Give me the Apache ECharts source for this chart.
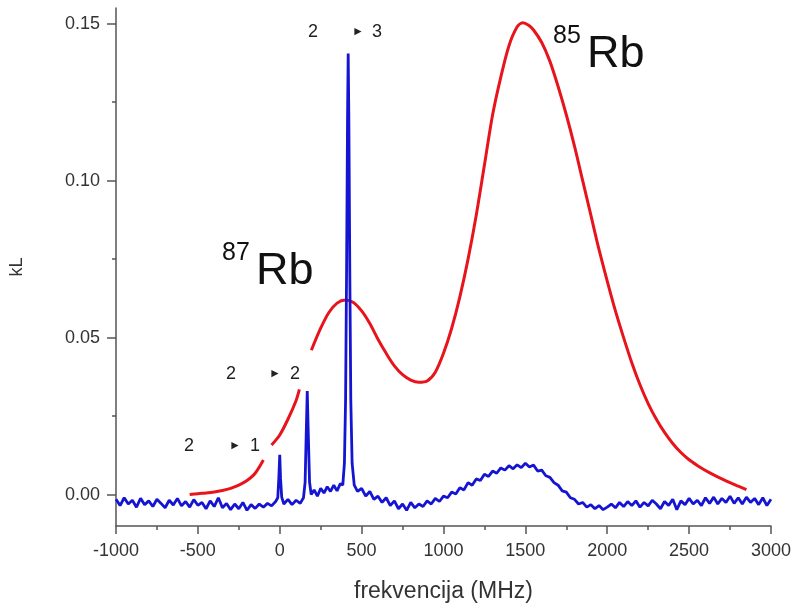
<!DOCTYPE html>
<html>
<head>
<meta charset="utf-8">
<script src="https://cdn.jsdelivr.net/npm/echarts@6/dist/echarts.min.js"></script>
<style>
  html, body { margin: 0; padding: 0; background: #fff; }
  #chart { width: 794px; height: 608px; }
</style>
</head>
<body>
<div id="chart"></div>
<script>
// x ticks (MHz) and y tick labels (kL)
var xTicks = [-1000, -500, 0, 500, 1000, 1500, 2000, 2500, 3000];
var yTicks = [0, 0.05, 0.10, 0.15];
var yMinorTicks = [0.025, 0.075, 0.125];

// absorption of the cell (red), null = gap in the trace
var redSpectrum = [
  [-550, 0.0000], [-500, 0.0003], [-450, 0.0005], [-400, 0.0008], [-350, 0.0013],
  [-300, 0.0020], [-250, 0.0030], [-200, 0.0045], [-150, 0.0068], [-100, 0.0110],
  [-75, null],
  [-50, 0.0158], [0, 0.0190], [50, 0.0240], [100, 0.0300], [120, 0.0335],
  [150, null],
  [193, 0.0460], [250, 0.0530], [300, 0.0580], [350, 0.0610], [400, 0.0620],
  [450, 0.0612], [500, 0.0585], [550, 0.0545], [600, 0.0495], [650, 0.0450],
  [700, 0.0410], [750, 0.0382], [800, 0.0365], [850, 0.0358], [900, 0.0362],
  [950, 0.0390], [1000, 0.0450], [1050, 0.0530], [1100, 0.0630], [1150, 0.0750],
  [1200, 0.0890], [1250, 0.1050], [1300, 0.1210], [1350, 0.1330], [1400, 0.1430],
  [1450, 0.1490], [1484, 0.1503], [1520, 0.1495], [1550, 0.1480], [1600, 0.1440],
  [1650, 0.1380], [1700, 0.1300], [1750, 0.1210], [1800, 0.1110], [1850, 0.1000],
  [1900, 0.0890], [1950, 0.0780], [2000, 0.0680], [2050, 0.0585], [2100, 0.0500],
  [2150, 0.0420], [2200, 0.0350], [2250, 0.0290], [2300, 0.0240], [2350, 0.0198],
  [2400, 0.0163], [2450, 0.0134], [2500, 0.0111], [2550, 0.0093], [2600, 0.0077],
  [2650, 0.0063], [2700, 0.0050], [2750, 0.0038], [2800, 0.0027], [2850, 0.0016]
];

// saturated absorption signal (blue)
var blueSpectrum = [
  [-1000, -0.0015], [-975, -0.0035], [-950, -0.0010], [-925, -0.0030], [-900, -0.0018],
  [-875, -0.0040], [-850, -0.0012], [-825, -0.0032], [-800, -0.0020], [-775, -0.0038],
  [-750, -0.0015], [-725, -0.0028], [-700, -0.0042], [-675, -0.0018], [-650, -0.0033],
  [-625, -0.0012], [-600, -0.0036], [-575, -0.0022], [-550, -0.0040], [-525, -0.0016],
  [-500, -0.0034], [-475, -0.0025], [-450, -0.0045], [-425, -0.0020], [-400, -0.0038],
  [-375, -0.0010], [-350, -0.0042], [-325, -0.0028], [-300, -0.0048], [-275, -0.0030],
  [-250, -0.0045], [-225, -0.0025], [-200, -0.0050], [-175, -0.0032], [-150, -0.0044],
  [-125, -0.0030], [-100, -0.0040], [-75, -0.0028], [-50, -0.0036], [-25, -0.0022],
  [-12, -0.0010], [-5, 0.0060], [0, 0.0127], [5, 0.0050], [12, -0.0008],
  [25, -0.0030], [50, -0.0015], [75, -0.0032], [100, -0.0018], [125, -0.0028],
  [145, -0.0010], [155, 0.0040], [162, 0.0200], [168, 0.0330], [174, 0.0200],
  [182, 0.0040], [192, 0.0000], [210, 0.0015], [230, -0.0005], [250, 0.0020],
  [270, 0.0005], [290, 0.0025], [310, 0.0010], [330, 0.0030], [350, 0.0012],
  [370, 0.0035], [385, 0.0030], [395, 0.0100], [402, 0.0300], [408, 0.0700],
  [414, 0.1200], [418, 0.1405], [422, 0.1200], [428, 0.0700], [434, 0.0300],
  [442, 0.0100], [455, 0.0030], [475, 0.0010], [500, 0.0020], [525, -0.0005],
  [550, 0.0010], [575, -0.0015], [600, -0.0005], [625, -0.0025], [650, -0.0010],
  [675, -0.0035], [700, -0.0020], [725, -0.0045], [750, -0.0030], [775, -0.0050],
  [800, -0.0025], [825, -0.0042], [850, -0.0030], [875, -0.0038], [900, -0.0020],
  [925, -0.0030], [950, -0.0012], [975, -0.0022], [1000, -0.0005], [1025, -0.0010],
  [1050, 0.0008], [1075, 0.0002], [1100, 0.0022], [1125, 0.0015], [1150, 0.0038],
  [1175, 0.0030], [1200, 0.0050], [1225, 0.0045], [1250, 0.0065], [1275, 0.0058],
  [1300, 0.0075], [1325, 0.0068], [1350, 0.0085], [1375, 0.0078], [1400, 0.0092],
  [1425, 0.0082], [1450, 0.0095], [1475, 0.0086], [1500, 0.0100], [1525, 0.0088],
  [1550, 0.0094], [1575, 0.0075], [1600, 0.0078], [1625, 0.0060], [1650, 0.0055],
  [1675, 0.0038], [1700, 0.0030], [1725, 0.0012], [1750, 0.0008], [1775, -0.0010],
  [1800, -0.0015], [1825, -0.0030], [1850, -0.0025], [1875, -0.0040], [1900, -0.0032],
  [1925, -0.0045], [1950, -0.0035], [1975, -0.0048], [2000, -0.0040], [2025, -0.0030],
  [2050, -0.0042], [2075, -0.0025], [2100, -0.0038], [2125, -0.0022], [2150, -0.0035],
  [2175, -0.0020], [2200, -0.0040], [2225, -0.0025], [2250, -0.0036], [2275, -0.0018],
  [2300, -0.0030], [2325, -0.0045], [2350, -0.0022], [2375, -0.0035], [2400, -0.0015],
  [2425, -0.0048], [2450, -0.0020], [2475, -0.0032], [2500, -0.0012], [2525, -0.0030],
  [2550, -0.0018], [2575, -0.0035], [2600, -0.0010], [2625, -0.0028], [2650, -0.0008],
  [2675, -0.0030], [2700, -0.0012], [2725, -0.0025], [2750, -0.0005], [2775, -0.0028],
  [2800, -0.0010], [2825, -0.0030], [2850, -0.0008], [2875, -0.0025], [2900, -0.0012],
  [2925, -0.0032], [2950, -0.0010], [2975, -0.0035], [3000, -0.0015]
];

var axisColor = "#555";
var textColor = "#333";
var font = "Liberation Sans, Arial, sans-serif";

var chart = echarts.init(document.getElementById("chart"));

var option = {
    animation: false,
    backgroundColor: "#fff",
    grid: { left: 114, right: 23, top: 8, bottom: 79 },
    xAxis: {
        type: "value",
        min: xTicks[0],
        max: xTicks[xTicks.length - 1],
        interval: 500,
        name: "frekvencija (MHz)",
        nameLocation: "middle",
        nameGap: 54,
        nameTextStyle: { fontSize: 23, color: textColor, fontFamily: font },
        axisLine: { onZero: false, lineStyle: { color: axisColor, width: 1.5 } },
        axisTick: { length: 8, lineStyle: { color: axisColor, width: 1.5 } },
        minorTick: { show: true, splitNumber: 2, length: 4, lineStyle: { color: axisColor, width: 1.5 } },
        axisLabel: {
            fontSize: 18, color: textColor, fontFamily: font, margin: 16,
            formatter: function (v) { return String(v); }
        },
        splitLine: { show: false }
    },
    yAxis: [{
        type: "value",
        min: -0.01,
        max: 0.155,
        name: "kL",
        nameLocation: "middle",
        nameGap: 90,
        nameTextStyle: { fontSize: 18, color: textColor, fontFamily: font },
        axisLine: { show: true, onZero: false, lineStyle: { color: axisColor, width: 1.5 } },
        axisTick: { show: true, customValues: yTicks, length: 9, lineStyle: { color: axisColor, width: 1.5 } },
        axisLabel: {
            customValues: yTicks,
            fontSize: 18, color: textColor, fontFamily: font, margin: 16,
            formatter: function (v) { return v.toFixed(2); }
        },
        splitLine: { show: false }
    }, {
        type: "value",
        min: -0.01,
        max: 0.155,
        position: "left",
        offset: 0,
        axisLine: { show: false, onZero: false },
        axisTick: { show: true, customValues: yMinorTicks, length: 4, lineStyle: { color: axisColor, width: 1.5 } },
        axisLabel: { show: false },
        splitLine: { show: false }
    }],
    series: [{
        name: "absorpcija",
        type: "line",
        showSymbol: false,
        connectNulls: false,
        smooth: 0.3,
        lineStyle: { color: "#e8141c", width: 3 },
        data: redSpectrum.map(function (p) { return [p[0], p[1] === null ? "-" : p[1]]; }),
        z: 2
    }, {
        name: "signal",
        type: "line",
        showSymbol: false,
        lineStyle: { color: "#1414d2", width: 2.8 },
        data: blueSpectrum,
        z: 3
    }],
    graphic: [
        { type: "text", left: 308, top: 23, style: { text: "2", fontSize: 18, fill: "#222", fontFamily: font } },
        { type: "text", left: 352, top: 26, style: { text: "\u25BA", fontSize: 12, fill: "#222", fontFamily: font } },
        { type: "text", left: 372, top: 23, style: { text: "3", fontSize: 18, fill: "#222", fontFamily: font } },

        { type: "text", left: 226, top: 365, style: { text: "2", fontSize: 18, fill: "#222", fontFamily: font } },
        { type: "text", left: 269, top: 368, style: { text: "\u25BA", fontSize: 12, fill: "#222", fontFamily: font } },
        { type: "text", left: 290, top: 365, style: { text: "2", fontSize: 18, fill: "#222", fontFamily: font } },

        { type: "text", left: 184, top: 437, style: { text: "2", fontSize: 18, fill: "#222", fontFamily: font } },
        { type: "text", left: 229, top: 440, style: { text: "\u25BA", fontSize: 12, fill: "#222", fontFamily: font } },
        { type: "text", left: 250, top: 437, style: { text: "1", fontSize: 18, fill: "#222", fontFamily: font } },

        { type: "text", left: 553, top: 24, style: { text: "85", fontSize: 25, fill: "#111", fontFamily: font } },
        { type: "text", left: 587, top: 32, style: { text: "Rb", fontSize: 45, fill: "#111", fontFamily: font } },

        { type: "text", left: 222, top: 241, style: { text: "87", fontSize: 25, fill: "#111", fontFamily: font } },
        { type: "text", left: 256, top: 249, style: { text: "Rb", fontSize: 45, fill: "#111", fontFamily: font } }
    ]
};

chart.setOption(option);
window.addEventListener("resize", function () { chart.resize(); });
</script>
</body>
</html>
